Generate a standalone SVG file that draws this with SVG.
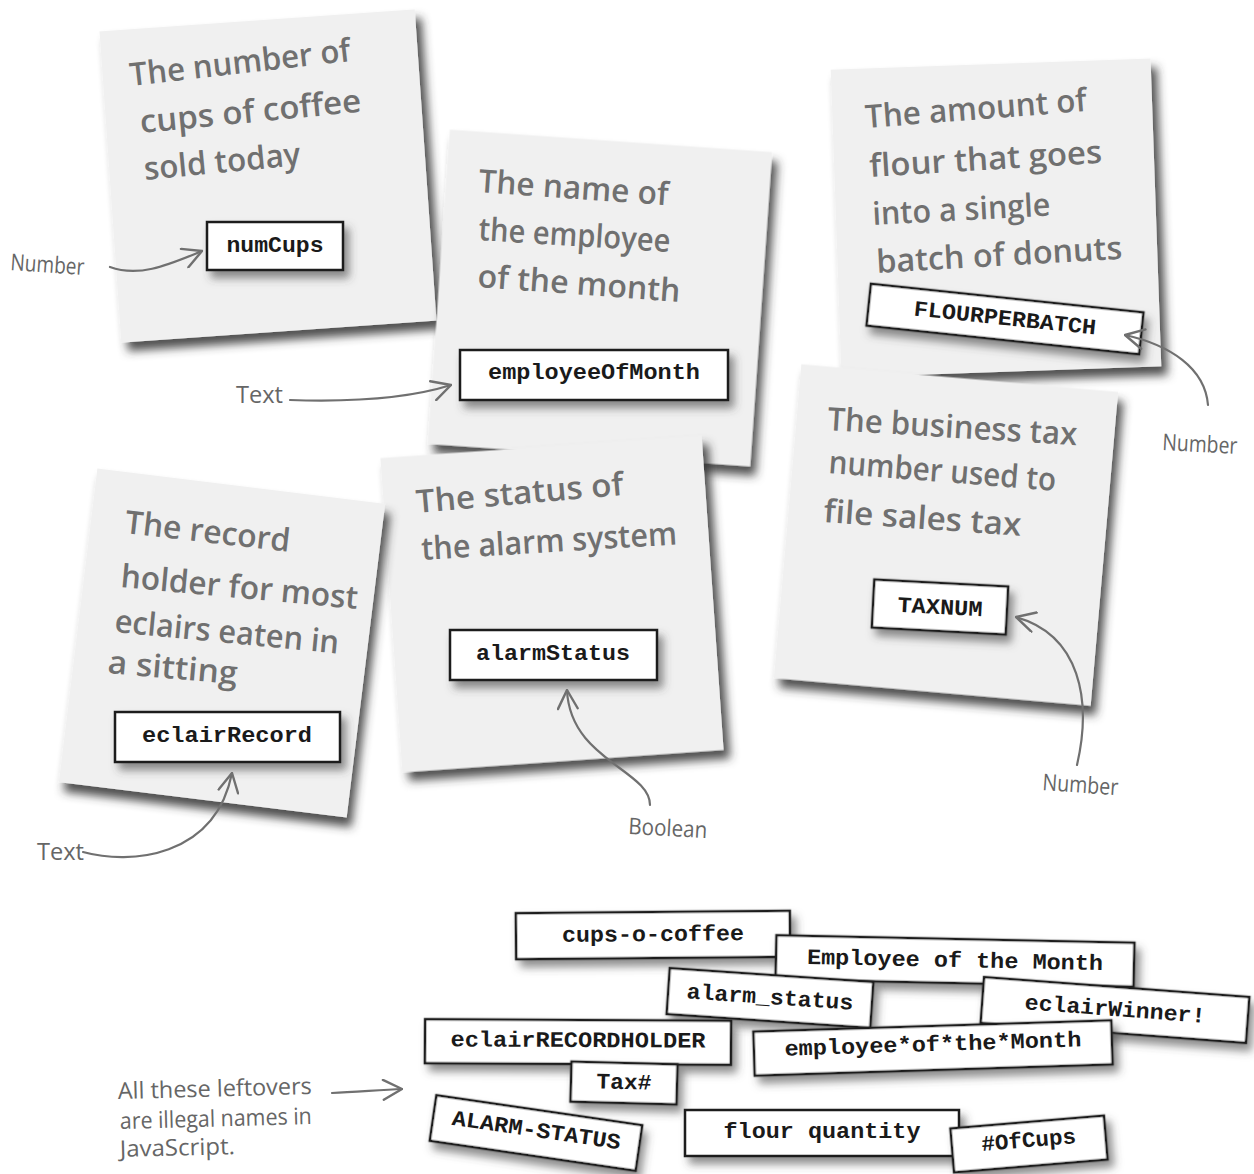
<svg xmlns="http://www.w3.org/2000/svg" width="1254" height="1174" viewBox="0 0 1254 1174">
<defs>
<filter id="cardShadow" x="-10%" y="-10%" width="125%" height="125%">
<feDropShadow dx="6" dy="9" stdDeviation="5" flood-color="#333" flood-opacity="0.85"/>
</filter>
<filter id="boxShadow" x="-15%" y="-40%" width="135%" height="190%">
<feDropShadow dx="5" dy="7" stdDeviation="4" flood-color="#444" flood-opacity="0.6"/>
</filter>
<marker id="vee" viewBox="0 0 20 20" markerWidth="22" markerHeight="22" refX="19" refY="10" orient="auto" markerUnits="userSpaceOnUse">
<path d="M2,1 L19,10 L2,19" fill="none" stroke="#707070" stroke-width="2.2" stroke-linecap="round" stroke-linejoin="round"/>
</marker>
</defs>
<style>
.card{fill:#f0f0f0;filter:url(#cardShadow)}
.hand{font-family:"Open Sans","DejaVu Sans",sans-serif;font-size:32px;font-weight:600;fill:#707070}
.lbl{font-family:"Open Sans","DejaVu Sans",sans-serif;font-size:23px;fill:#666}
.box{fill:#fff;stroke:#1a1a1a;stroke-width:2.5;filter:url(#boxShadow)}
.code{font-family:"Liberation Mono","Courier New",monospace;font-weight:bold;font-size:22px;fill:#1a1a1a;text-anchor:middle}
.conn{fill:none;stroke:#707070;stroke-width:2.2;stroke-linecap:round}
</style>
<rect width="1254" height="1174" fill="#fff"/>

<g id="card-numCups">
<rect class="card" x="-158" y="-156" width="316" height="312" transform="translate(268,176) rotate(-4)"/>
<text class="hand" x="131" y="86" transform="rotate(-6.5 131 86)" textLength="222" lengthAdjust="spacingAndGlyphs">The number of</text>
<text class="hand" x="141" y="133" transform="rotate(-5.5 141 133)" textLength="222" lengthAdjust="spacingAndGlyphs">cups of coffee</text>
<text class="hand" x="145" y="180" transform="rotate(-5.5 145 180)" textLength="157" lengthAdjust="spacingAndGlyphs">sold today</text>
<rect class="box" x="207" y="222" width="136" height="48"/>
<text class="code" x="275" y="252" textLength="97" lengthAdjust="spacingAndGlyphs">numCups</text>
</g>

<g id="card-employeeOfMonth">
<rect class="card" x="-161.5" y="-157.5" width="323" height="315" transform="translate(600,298) rotate(4)"/>
<text class="hand" x="478" y="192" transform="rotate(4 478 192)" textLength="190" lengthAdjust="spacingAndGlyphs">The name of</text>
<text class="hand" x="478" y="240" transform="rotate(3.6 478 240)" textLength="192" lengthAdjust="spacingAndGlyphs">the employee</text>
<text class="hand" x="477" y="287" transform="rotate(4.2 477 287)" textLength="203" lengthAdjust="spacingAndGlyphs">of the month</text>
<rect class="box" x="460" y="350" width="268" height="50"/>
<text class="code" x="594" y="379" textLength="212" lengthAdjust="spacingAndGlyphs">employeeOfMonth</text>
</g>

<g id="card-FLOURPERBATCH">
<rect class="card" x="-160" y="-154" width="320" height="308" transform="translate(996,218) rotate(-2)"/>
<text class="hand" x="866" y="128" transform="rotate(-4.4 866 128)" textLength="222" lengthAdjust="spacingAndGlyphs">The amount of</text>
<text class="hand" x="870" y="177" transform="rotate(-3.5 870 177)" textLength="233" lengthAdjust="spacingAndGlyphs">flour that goes</text>
<text class="hand" x="873" y="225" transform="rotate(-3 873 225)" textLength="178" lengthAdjust="spacingAndGlyphs">into a single</text>
<text class="hand" x="877" y="273" transform="rotate(-3.3 877 273)" textLength="246" lengthAdjust="spacingAndGlyphs">batch of donuts</text>
<g transform="translate(1005,319) rotate(6)">
<rect class="box" x="-137" y="-21" width="274" height="42"/>
<text class="code" x="0" y="6" font-size="19" textLength="183" lengthAdjust="spacingAndGlyphs">FLOURPERBATCH</text>
</g>
</g>

<g id="card-TAXNUM">
<rect class="card" x="-159" y="-157.5" width="318" height="315" transform="translate(946,535) rotate(5)"/>
<text class="hand" x="827" y="430" transform="rotate(3.5 827 430)" textLength="250" lengthAdjust="spacingAndGlyphs">The business tax</text>
<text class="hand" x="828" y="473" transform="rotate(4.5 828 473)" textLength="228" lengthAdjust="spacingAndGlyphs">number used to</text>
<text class="hand" x="823" y="522" transform="rotate(4 823 522)" textLength="198" lengthAdjust="spacingAndGlyphs">file sales tax</text>
<g transform="translate(940,607) rotate(3)">
<rect class="box" x="-67" y="-24" width="134" height="48"/>
<text class="code" x="0" y="7" font-size="19" textLength="85" lengthAdjust="spacingAndGlyphs">TAXNUM</text>
</g>
</g>

<g id="card-alarmStatus">
<rect class="card" x="-161" y="-157.5" width="322" height="315" transform="translate(552,604) rotate(-4)"/>
<text class="hand" x="417" y="513" transform="rotate(-5 417 513)" textLength="208" lengthAdjust="spacingAndGlyphs">The status of</text>
<text class="hand" x="422" y="560" transform="rotate(-3.5 422 560)" textLength="256" lengthAdjust="spacingAndGlyphs">the alarm system</text>
<rect class="box" x="450" y="630" width="207" height="50"/>
<text class="code" x="553" y="660" textLength="154" lengthAdjust="spacingAndGlyphs">alarmStatus</text>
</g>

<g id="card-eclairRecord">
<rect class="card" x="-145" y="-158" width="290" height="316" transform="translate(222,643) rotate(7)"/>
<text class="hand" x="124" y="533" transform="rotate(6.5 124 533)" textLength="166" lengthAdjust="spacingAndGlyphs">The record</text>
<text class="hand" x="120" y="587" transform="rotate(5.3 120 587)" textLength="238" lengthAdjust="spacingAndGlyphs">holder for most</text>
<text class="hand" x="114" y="632" transform="rotate(5.5 114 632)" textLength="225" lengthAdjust="spacingAndGlyphs">eclairs eaten in</text>
<text class="hand" x="107" y="673" transform="rotate(5 107 673)" textLength="130" lengthAdjust="spacingAndGlyphs">a sitting</text>
<rect class="box" x="115" y="712" width="225" height="50"/>
<text class="code" x="227" y="742" textLength="170" lengthAdjust="spacingAndGlyphs">eclairRecord</text>
</g>

<g id="leftovers">
<g id="lo-cups-o-coffee" transform="translate(653,935) rotate(-0.5)">
<rect class="box" x="-137" y="-23" width="274" height="46"/>
<text class="code" x="0" y="6" textLength="182" lengthAdjust="spacingAndGlyphs">cups-o-coffee</text>
</g>
<g id="lo-Employee-of-the-Month" transform="translate(955,961) rotate(1.2)">
<rect class="box" x="-179" y="-22" width="358" height="44"/>
<text class="code" x="0" y="6" textLength="296" lengthAdjust="spacingAndGlyphs">Employee of the Month</text>
</g>
<g id="lo-alarm_status" transform="translate(770,998) rotate(3.9)">
<rect class="box" x="-102" y="-23" width="204" height="46"/>
<text class="code" x="0" y="6" textLength="167" lengthAdjust="spacingAndGlyphs">alarm_status</text>
</g>
<g id="lo-eclairWinner" transform="translate(1115,1010) rotate(4.3)">
<rect class="box" x="-133" y="-23" width="266" height="46"/>
<text class="code" x="0" y="6" textLength="181" lengthAdjust="spacingAndGlyphs">eclairWinner!</text>
</g>
<g id="lo-eclairRECORDHOLDER" transform="translate(578,1042) rotate(0.3)">
<rect class="box" x="-153" y="-22" width="306" height="44"/>
<text class="code" x="0" y="5" textLength="255" lengthAdjust="spacingAndGlyphs">eclairRECORDHOLDER</text>
</g>
<g id="lo-employee-of-the-Month" transform="translate(933,1048) rotate(-1.8)">
<rect class="box" x="-179" y="-22" width="358" height="44"/>
<text class="code" x="0" y="3" textLength="297" lengthAdjust="spacingAndGlyphs">employee*of*the*Month</text>
</g>
<g id="lo-Tax" transform="translate(624,1083) rotate(1.5)">
<rect class="box" x="-53" y="-20" width="106" height="40"/>
<text class="code" x="0" y="6" textLength="55" lengthAdjust="spacingAndGlyphs">Tax#</text>
</g>
<g id="lo-ALARM-STATUS" transform="translate(536,1133) rotate(8.3)">
<rect class="box" x="-104" y="-23" width="208" height="46"/>
<text class="code" x="0" y="4" textLength="170" lengthAdjust="spacingAndGlyphs">ALARM-STATUS</text>
</g>
<g id="lo-flour-quantity" transform="translate(822,1133) rotate(0)">
<rect class="box" x="-137" y="-23" width="274" height="46"/>
<text class="code" x="0" y="5" textLength="197" lengthAdjust="spacingAndGlyphs">flour quantity</text>
</g>
<g id="lo-OfCups" transform="translate(1029,1144) rotate(-4.8)">
<rect class="box" x="-77" y="-22" width="154" height="44"/>
<text class="code" x="0" y="3" textLength="95" lengthAdjust="spacingAndGlyphs">#OfCups</text>
</g>
</g>

<g id="labels">
<text class="lbl" x="10" y="270" transform="rotate(4 10 270)" textLength="74" lengthAdjust="spacingAndGlyphs">Number</text>
<text class="lbl" x="236" y="403" textLength="47" lengthAdjust="spacingAndGlyphs">Text</text>
<text class="lbl" x="1162" y="450" transform="rotate(3 1162 450)" textLength="75" lengthAdjust="spacingAndGlyphs">Number</text>
<text class="lbl" x="1042" y="790" transform="rotate(4 1042 790)" textLength="76" lengthAdjust="spacingAndGlyphs">Number</text>
<text class="lbl" x="37" y="860" textLength="47" lengthAdjust="spacingAndGlyphs">Text</text>
<text class="lbl" x="628" y="834" transform="rotate(3 628 834)" textLength="79" lengthAdjust="spacingAndGlyphs">Boolean</text>
<text class="lbl" x="118" y="1099" transform="rotate(-1.5 118 1099)" textLength="194" lengthAdjust="spacingAndGlyphs">All these leftovers</text>
<text class="lbl" x="120" y="1129" transform="rotate(-1.5 120 1129)" textLength="192" lengthAdjust="spacingAndGlyphs">are illegal names in</text>
<text class="lbl" x="120" y="1157" transform="rotate(-1.5 120 1157)" textLength="115" lengthAdjust="spacingAndGlyphs">JavaScript.</text>
</g>

<g id="connectors">
<path class="conn" marker-end="url(#vee)" d="M110,267 C140,278 170,264 202,251"/>
<path class="conn" marker-end="url(#vee)" d="M290,400 C350,402 410,398 451,385"/>
<path class="conn" marker-end="url(#vee)" d="M1208,405 C1205,368 1170,345 1125,335"/>
<path class="conn" marker-end="url(#vee)" d="M1077,765 C1092,700 1080,635 1016,617"/>
<path class="conn" marker-end="url(#vee)" d="M83,852 C130,865 215,858 232,773"/>
<path class="conn" marker-end="url(#vee)" d="M650,805 C650,770 570,760 567,690"/>
<path class="conn" marker-end="url(#vee)" d="M332,1093 C355,1092 380,1090 402,1089"/>
</g>
</svg>
